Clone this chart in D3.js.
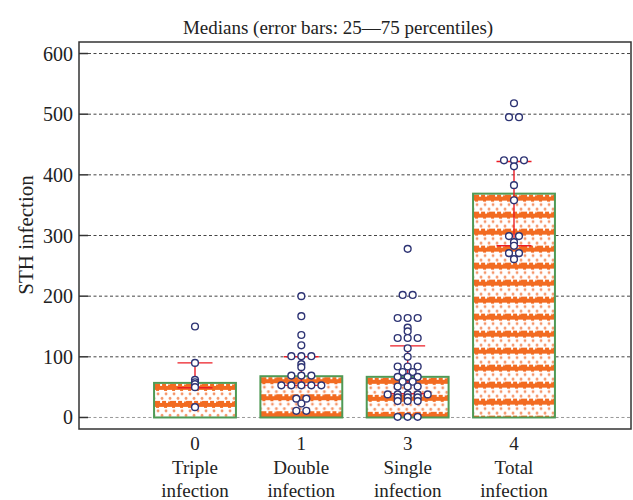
<!DOCTYPE html>
<html>
<head>
<meta charset="utf-8">
<script src="https://cdn.jsdelivr.net/npm/d3@7"></script>
<style>
    body { margin: 0; background: #fff; }
    text { font-family: "Liberation Serif", "Times New Roman", serif; fill: #222; }
</style>
</head>
<body>
<div id="chart"></div>
<script>

// Chart data
var categories = ["0", "1", "3", "4"];
var groupNames = [["Triple", "infection"], ["Double", "infection"], ["Single", "infection"], ["Total", "infection"]];
var medians = [57, 68, 67, 369];
var q25 = [49, 53, 39, 283];
var q75 = [90, 100, 118, 422];
var yTicks = [0, 100, 200, 300, 400, 500, 600];

var points0 = [150, 90, 62, 58, 55, 50, 17];
var points1 = [200, 167, 136, 119, 101, 101, 101, 88, 83, 69, 69, 69, 53, 53, 53, 53, 53, 31, 31, 23, 11, 11];
var points3 = [278, 202, 202, 164, 164, 164, 148, 142, 131, 131, 131, 114, 100, 84, 84, 84, 75, 75,
               67, 67, 67, 59, 59, 51, 51, 51, 38, 38, 38, 38, 38, 33, 33, 33, 27, 27, 27, 1, 1, 1];
var points4 = [518, 495, 495, 424, 424, 424, 414, 383, 358, 299, 299, 289, 283, 271, 271, 261];
var allPoints = [points0, points1, points3, points4];

var width = 633, height = 500;
var margin = {top: 42, right: 2, bottom: 71, left: 79};

var svg = d3.select("#chart")
    .append("svg")
    .attr("width", width)
    .attr("height", height);

// Scales
var y = d3.scaleLinear()
    .domain([-19, 619])
    .range([height - margin.bottom, margin.top]);

var x = d3.scalePoint()
    .domain(categories)
    .range([195, 514]);

var barW = x.step() * 0.77;

// Patterns for the bars (one per bar so the stripes start at the bar top)
var orange = "#f26b21";
var defs = svg.append("defs");
medians.forEach(function(m, i) {
    var p = defs.append("pattern")
        .attr("id", "fill" + i)
        .attr("patternUnits", "userSpaceOnUse")
        .attr("x", x(categories[i]) - barW / 2)
        .attr("y", y(m) + 1)
        .attr("width", 16)
        .attr("height", 17);
    p.append("rect").attr("width", 16).attr("height", 17).attr("fill", "#fff");
    // jagged stripe
    p.append("rect").attr("x", 0).attr("y", 2).attr("width", 16).attr("height", 4).attr("fill", orange);
    p.append("rect").attr("x", 0).attr("y", 0).attr("width", 6).attr("height", 2).attr("fill", orange);
    p.append("rect").attr("x", 8).attr("y", 0).attr("width", 4).attr("height", 2).attr("fill", orange);
    p.append("rect").attr("x", 14).attr("y", 0.5).attr("width", 2).attr("height", 1.5).attr("fill", orange);
    p.append("rect").attr("x", 2).attr("y", 6).attr("width", 3).attr("height", 1).attr("fill", orange);
    p.append("rect").attr("x", 10).attr("y", 6).attr("width", 3).attr("height", 1).attr("fill", orange);
    // dots
    [[4, 10], [12, 10], [0, 14.5], [8, 14.5], [16, 14.5]].forEach(function(d) {
        p.append("circle").attr("cx", d[0]).attr("cy", d[1]).attr("r", 1.4).attr("fill", "#f59366");
    });
});

// Gridlines
svg.append("g")
    .selectAll("line")
    .data(yTicks)
    .enter()
    .append("line")
    .attr("x1", margin.left + 9)
    .attr("x2", width - margin.right)
    .attr("y1", d => y(d))
    .attr("y2", d => y(d))
    .attr("stroke", d => d == 0 ? "#999" : "#444")
    .attr("stroke-width", 1)
    .attr("stroke-dasharray", "3,2.5");

// Bars
svg.append("g")
    .selectAll("rect")
    .data(medians)
    .enter()
    .append("rect")
    .attr("x", (d, i) => x(categories[i]) - barW / 2)
    .attr("y", d => y(d))
    .attr("width", barW)
    .attr("height", d => y(0) - y(d))
    .attr("fill", (d, i) => "url(#fill" + i + ")")
    .attr("stroke", "#4f9a55")
    .attr("stroke-width", 2);

// Error bars
var errs = svg.append("g")
    .attr("stroke", "#ec1c24")
    .attr("stroke-width", 1.4);

categories.forEach(function(c, i) {
    var cx = x(c);
    errs.append("line").attr("x1", cx).attr("x2", cx).attr("y1", y(q25[i])).attr("y2", y(q75[i]));
    errs.append("line").attr("x1", cx - 17.5).attr("x2", cx + 17.5).attr("y1", y(q75[i])).attr("y2", y(q75[i]));
    errs.append("line").attr("x1", cx - 17.5).attr("x2", cx + 17.5).attr("y1", y(q25[i])).attr("y2", y(q25[i]));
});

// Points, equal values spread side by side
var dots = svg.append("g");
allPoints.forEach(function(pts, i) {
    var counts = d3.rollup(pts, v => v.length, d => d);
    var seen = new Map();
    pts.forEach(function(v) {
        var n = counts.get(v);
        var k = seen.get(v) || 0;
        seen.set(v, k + 1);
        dots.append("circle")
            .attr("cx", x(categories[i]) + (k - (n - 1) / 2) * 10)
            .attr("cy", y(v))
            .attr("r", 3.4)
            .attr("fill", "#fff")
            .attr("stroke", "#2e3474")
            .attr("stroke-width", 1.4);
    });
});

// Y axis ticks (inside) and labels
var yAxis = svg.append("g");
yTicks.forEach(function(t) {
    yAxis.append("line")
        .attr("x1", margin.left).attr("x2", margin.left + 9)
        .attr("y1", y(t)).attr("y2", y(t))
        .attr("stroke", "#333").attr("stroke-width", 1.5);
    yAxis.append("text")
        .attr("x", margin.left - 6)
        .attr("y", y(t) + 7)
        .attr("text-anchor", "end")
        .style("font-size", "20px")
        .text(t);
});

// Frame
svg.append("rect")
    .attr("x", margin.left)
    .attr("y", margin.top)
    .attr("width", width - margin.left - margin.right)
    .attr("height", height - margin.top - margin.bottom)
    .attr("fill", "none")
    .attr("stroke", "#333")
    .attr("stroke-width", 1.5);

// X labels
categories.forEach(function(c, i) {
    var lab = svg.append("text")
        .attr("text-anchor", "middle")
        .style("font-size", "19px");
    lab.append("tspan").attr("x", x(c)).attr("y", 450).text(c);
    lab.append("tspan").attr("x", x(c)).attr("y", 474).text(groupNames[i][0]);
    lab.append("tspan").attr("x", x(c)).attr("y", 497).text(groupNames[i][1]);
});

// Title and axis label
svg.append("text")
    .attr("x", 338)
    .attr("y", 34)
    .attr("text-anchor", "middle")
    .style("font-size", "19px")
    .text("Medians (error bars: 25\u201475 percentiles)");

svg.append("text")
    .attr("transform", "translate(33,235)rotate(-90)")
    .attr("text-anchor", "middle")
    .style("font-size", "21px")
    .text("STH infection");

</script>
</body>
</html>
